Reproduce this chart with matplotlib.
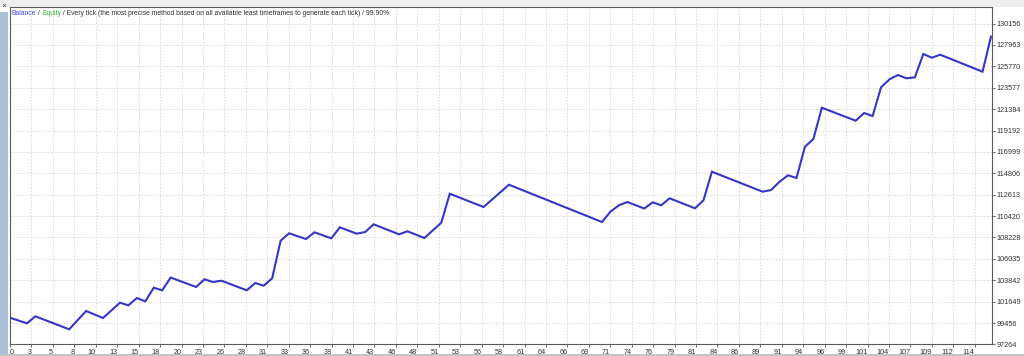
import matplotlib.pyplot as plt
from matplotlib.patches import Rectangle

# ── balance curve (trade number -> account balance) ──
trade = [0, 2, 3, 7, 9, 11, 13, 14, 15, 16, 17, 18, 19, 22, 23, 24, 25, 28,
         29, 30, 31, 32, 33, 35, 36, 38, 39, 41, 42, 43, 46, 47, 49, 51, 52,
         56, 59, 70, 71, 72, 73, 75, 76, 77, 78, 81, 82, 83, 89, 90, 91, 92,
         93, 94, 95, 96, 100, 101, 102, 103, 104, 105, 106, 107, 108, 109,
         110, 115, 116]
balance = [100000, 99426, 100144, 98811, 100687, 99969, 101538, 101271,
           102020, 101681, 103076, 102809, 104122, 103148, 103937, 103660,
           103794, 102809, 103558, 103281, 104040, 107895, 108654, 108069,
           108756, 108141, 109269, 108613, 108787, 109576, 108551, 108859,
           108172, 109740, 112714, 111350, 113636, 109812, 110868, 111524,
           111863, 111196, 111832, 111524, 112242, 111217, 112037, 114969,
           112919, 113093, 113944, 114600, 114323, 117533, 118322, 121531,
           120198, 120988, 120680, 123623, 124443, 124884, 124546, 124648,
           127037, 126658, 126965, 125222, 128811]

x_labels = ['0', '3', '5', '8', '10', '13', '15', '18', '20', '23', '26', '28',
            '31', '33', '36', '38', '41', '43', '46', '48', '51', '53', '56',
            '58', '61', '64', '66', '69', '71', '74', '76', '79', '81', '84',
            '86', '89', '91', '94', '96', '99', '101', '104', '107', '109',
            '112', '114']
y_ticks = [97264, 99456, 101649, 103842, 106035, 108228, 110420, 112613,
           114806, 116999, 119192, 121384, 123577, 125770, 127963, 130156]

LINE = '#3535c8'
GRID = '#d9d9d9'
TXT = '#303030'
FONT = 'Liberation Sans'

W, H = 1024, 356
fig = plt.figure(figsize=(W / 100, H / 100), dpi=100, facecolor='white')

# window chrome bits around the chart
fig.patches.append(Rectangle((0, 1 - 6.5 / H), 1, 6.5 / H, transform=fig.transFigure,
                             facecolor='#eeeeee', edgecolor='none', zorder=0))
fig.patches.append(Rectangle((0, 0), 7.5 / W, 1 - 12 / H, transform=fig.transFigure,
                             facecolor='#a9bfd8', edgecolor='none', zorder=0))
fig.patches.append(Rectangle((0, 0), 1, 2.5 / H, transform=fig.transFigure,
                             facecolor='#c4c4c4', edgecolor='none', zorder=0))
fig.text(1 / W, 1 - 6 / H, '×', fontsize=6, color='#333333', va='center',
         family=FONT)

ax = fig.add_axes([10 / W, (H - 344.4) / H, 982 / W, (344.4 - 6.7) / H])
ax.set_facecolor('white')

ax.plot(trade, balance, color=LINE, linewidth=1.5, solid_joinstyle='miter',
        zorder=3)

ax.set_xlim(0, 116.12)
ax.set_ylim(97264, 131887)

# grid steps are fixed in pixels on the tester, so ticks are spaced evenly
step = 2.535
ax.set_xticks([k * step for k in range(len(x_labels))])
ax.set_xticklabels(x_labels)
ax.set_yticks(y_ticks)
ax.set_yticklabels([str(v) for v in y_ticks])

ax.yaxis.tick_right()
ax.tick_params(axis='x', length=2, width=0.6, pad=1.2, colors='#555555',
               labelsize=5.2, labelcolor=TXT)
ax.tick_params(axis='y', length=2.2, width=0.6, pad=0.8, colors='#555555',
               labelsize=5.2, labelcolor=TXT)
for i, lab in enumerate(ax.get_xticklabels()):
    lab.set_family(FONT)
    lab.set_horizontalalignment('left' if i == 0 else 'right')
for lab in ax.get_yticklabels():
    lab.set_family(FONT)

ax.grid(True, color=GRID, linestyle=(0, (1.6, 1.6)), linewidth=0.7, zorder=1)
for s in ax.spines.values():
    s.set_color('#5a5a5a')
    s.set_linewidth(0.8)

# header line: coloured pieces chained one after another
FS = 4.85
t1 = fig.text(12 / W, 1 - 16.8 / H, 'Balance', color='#4040d8', fontsize=FS,
              family=FONT, va='bottom', ha='left')
t2 = ax.annotate(' / ', xycoords=t1, xy=(1, 0), va='bottom', ha='left',
                 color=TXT, fontsize=FS, family=FONT)
t3 = ax.annotate('Equity', xycoords=t2, xy=(1, 0), va='bottom', ha='left',
                 color='#2db52d', fontsize=FS, family=FONT)
ax.annotate(' / Every tick (the most precise method based on all available '
            'least timeframes to generate each tick) / 99.90%',
            xycoords=t3, xy=(1, 0), va='bottom', ha='left',
            color=TXT, fontsize=FS, family=FONT)

plt.savefig('out.png', dpi=100, facecolor='white')
